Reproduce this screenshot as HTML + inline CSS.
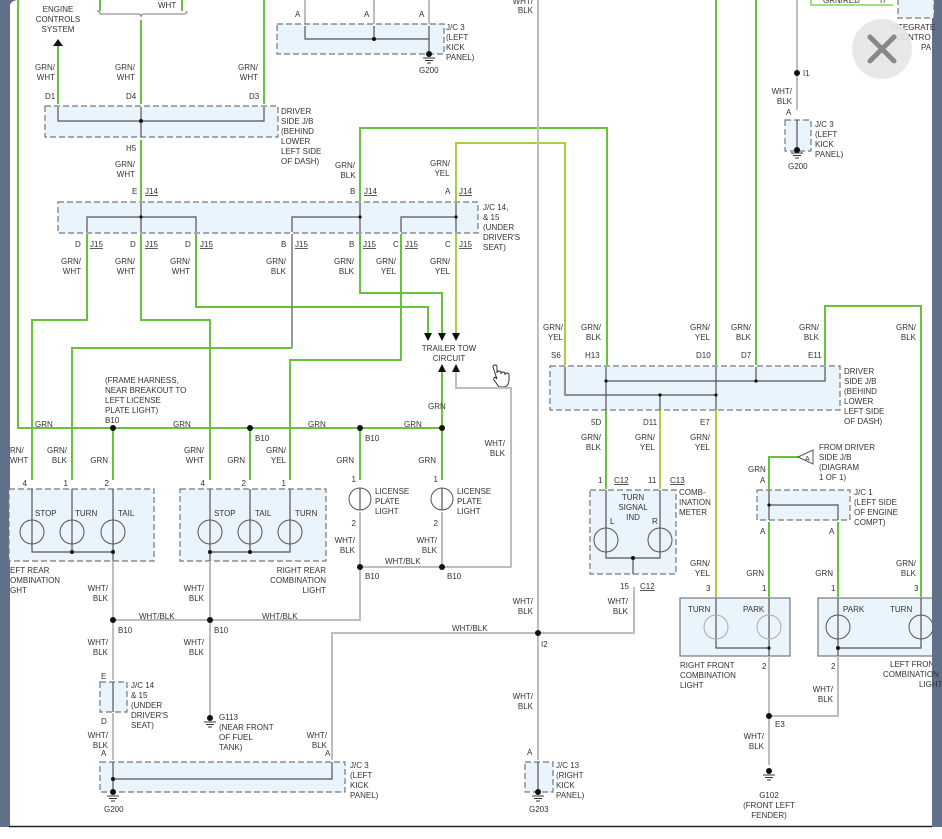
<!DOCTYPE html>
<html><head><meta charset="utf-8"><style>
html,body{margin:0;padding:0;background:#fff;}
svg{display:block;}
text{font-family:"Liberation Sans",Arial,sans-serif;font-size:8px;fill:#333;}
.g{stroke:#66c33a;stroke-width:2;fill:none;}
.y{stroke:#a8d23c;stroke-width:2;fill:none;}
.w{stroke:#bdbdbd;stroke-width:2;fill:none;}
.d{stroke:#555;stroke-width:1.2;fill:none;}
.bx{fill:#eaf4fc;stroke:#777;stroke-width:1.2;stroke-dasharray:6,3;}
.sb{fill:#eaf4fc;stroke:#777;stroke-width:1.2;}
.bl{fill:none;stroke:#555;stroke-width:1;}
.bll{fill:none;stroke:#aaa;stroke-width:1;}
</style></head><body>
<svg width="942" height="839" viewBox="0 0 942 839">
<rect width="942" height="839" fill="#fff"/>
<!-- frame -->
<rect x="0" y="0" width="10" height="827" fill="#5f7088"/>
<rect x="932" y="0" width="10" height="827" fill="#5f7088"/>
<path d="M9 0 v10 q0 -10 10 -10 z" fill="#5f7088"/>
<line x1="9" y1="826.5" x2="932" y2="826.5" stroke="#222" stroke-width="1.5"/>

<!-- ===== top left ===== -->
<text x="58" y="12" text-anchor="middle">ENGINE</text>
<text x="58" y="22" text-anchor="middle">CONTROLS</text>
<text x="58" y="32" text-anchor="middle">SYSTEM</text>
<polygon points="53,46 63,46 58,39" fill="#111"/>
<line class="g" x1="58" y1="46" x2="58" y2="104"/>
<path d="M97 11 q3 0 3 3 h38 q3 0 3 3 q0 -3 3 -3 h40 q3 0 3 -3" fill="none" stroke="#777"/>
<line class="g" x1="100" y1="0" x2="100" y2="11"/>
<line class="g" x1="182" y1="0" x2="182" y2="11"/>
<text x="158" y="8">WHT</text>
<line class="g" x1="141" y1="20" x2="141" y2="104"/>
<line class="g" x1="264" y1="0" x2="264" y2="104"/>
<text x="55" y="70" text-anchor="end">GRN/</text><text x="55" y="80" text-anchor="end">WHT</text>
<text x="135" y="70" text-anchor="end">GRN/</text><text x="135" y="80" text-anchor="end">WHT</text>
<text x="258" y="70" text-anchor="end">GRN/</text><text x="258" y="80" text-anchor="end">WHT</text>
<text x="45" y="99">D1</text><text x="126" y="99">D4</text><text x="249" y="99">D3</text>
<rect class="bx" x="45" y="106" width="233" height="31"/>
<path class="d" d="M58 107 V121 H264 V107 M141 107 V137"/>
<circle cx="141" cy="121" r="2" fill="#111"/>
<text x="281" y="114">DRIVER</text><text x="281" y="124">SIDE J/B</text><text x="281" y="134">(BEHIND</text><text x="281" y="144">LOWER</text><text x="281" y="154">LEFT SIDE</text><text x="281" y="164">OF DASH)</text>
<text x="126" y="151">H5</text>
<line class="g" x1="141" y1="140" x2="141" y2="201"/>
<text x="135" y="167" text-anchor="end">GRN/</text><text x="135" y="177" text-anchor="end">WHT</text>
<text x="132" y="194">E</text><text x="145" y="194" text-decoration="underline">J14</text>

<!-- J/C 14 box -->
<rect class="bx" x="58" y="202" width="420" height="31"/>
<path class="d" d="M141 203 V232 M87 232 V217 H196 V232 M292 232 V217 H360 V203 M360 217 V232 M401 232 V217 H456 V203 M456 217 V232"/>
<circle cx="141" cy="217" r="1.6" fill="#111"/><circle cx="360" cy="217" r="1.6" fill="#111"/><circle cx="456" cy="217" r="1.6" fill="#111"/>
<text x="483" y="210">J/C 14,</text><text x="483" y="220">&amp; 15</text><text x="483" y="230">(UNDER</text><text x="483" y="240">DRIVER'S</text><text x="483" y="250">SEAT)</text>
<text x="345" y="168" text-anchor="middle">GRN/</text><text x="348" y="178" text-anchor="middle">BLK</text>
<text x="350" y="194">B</text><text x="364" y="194" text-decoration="underline">J14</text>
<text x="440" y="166" text-anchor="middle">GRN/</text><text x="442" y="176" text-anchor="middle">YEL</text>
<text x="445" y="194">A</text><text x="459" y="194" text-decoration="underline">J14</text>
<path class="g" d="M360 201 V128 H607 V365"/>
<path class="y" d="M456 201 V143 H565 V365"/>
<!-- J15 labels -->
<text x="75" y="247">D</text><text x="90" y="247" text-decoration="underline">J15</text>
<text x="130" y="247">D</text><text x="145" y="247" text-decoration="underline">J15</text>
<text x="185" y="247">D</text><text x="200" y="247" text-decoration="underline">J15</text>
<text x="281" y="247">B</text><text x="295" y="247" text-decoration="underline">J15</text>
<text x="349" y="247">B</text><text x="363" y="247" text-decoration="underline">J15</text>
<text x="393" y="247">C</text><text x="405" y="247" text-decoration="underline">J15</text>
<text x="445" y="247">C</text><text x="459" y="247" text-decoration="underline">J15</text>
<text x="81" y="264" text-anchor="end">GRN/</text><text x="81" y="274" text-anchor="end">WHT</text>
<text x="135" y="264" text-anchor="end">GRN/</text><text x="135" y="274" text-anchor="end">WHT</text>
<text x="190" y="264" text-anchor="end">GRN/</text><text x="190" y="274" text-anchor="end">WHT</text>
<text x="286" y="264" text-anchor="end">GRN/</text><text x="286" y="274" text-anchor="end">BLK</text>
<text x="354" y="264" text-anchor="end">GRN/</text><text x="354" y="274" text-anchor="end">BLK</text>
<text x="396" y="264" text-anchor="end">GRN/</text><text x="396" y="274" text-anchor="end">YEL</text>
<text x="450" y="264" text-anchor="end">GRN/</text><text x="450" y="274" text-anchor="end">YEL</text>
<!-- J15 wires -->
<path class="g" d="M87 234 V320 H32 V480"/>
<path class="g" d="M141 234 V320 H210 V480"/>
<path class="g" d="M196 234 V307 H428 V333"/>
<path stroke="#777" stroke-width="1.5" fill="none" d="M292 234 V348"/>
<path class="g" d="M292 348 H72 V480"/>
<path class="g" d="M360 234 V293 H442 V333"/>
<path class="g" d="M401 234 V360 H290 V480"/>
<path class="y" d="M456 234 V333"/>
<polygon points="424,333 432,333 428,341" fill="#111"/>
<polygon points="438,333 446,333 442,341" fill="#111"/>
<polygon points="452,333 460,333 456,341" fill="#111"/>
<text x="449" y="351" text-anchor="middle">TRAILER TOW</text>
<text x="449" y="361" text-anchor="middle">CIRCUIT</text>
<polygon points="438,372 446,372 442,364" fill="#111"/>
<polygon points="452,372 460,372 456,364" fill="#111"/>
<path d="M493 367 q0 -2 2 -2 q2 0 2 2 v6 q0 -2 2 -2 q2 0 2 2 v1 q0 -2 2 -2 q2 0 2 2 v1 q0 -2 2 -2 q2 0 2 2 v5 q0 5 -4 7 h-6 l-5 -7 q-1 -2 1 -3 l2 2 z" fill="#fff" stroke="#222" stroke-width="0.9"/>

<!-- GRN bus -->
<path class="g" d="M18 0 V428 H442"/>
<line class="g" x1="442" y1="372" x2="442" y2="480"/>
<line class="g" x1="113" y1="428" x2="113" y2="480"/>
<line class="g" x1="250" y1="428" x2="250" y2="480"/>
<line class="g" x1="360" y1="428" x2="360" y2="480"/>
<circle cx="113" cy="428" r="3" fill="#111"/><circle cx="250" cy="428" r="3" fill="#111"/>
<circle cx="360" cy="428" r="3" fill="#111"/><circle cx="442" cy="428" r="3" fill="#111"/>
<text x="105" y="383">(FRAME HARNESS,</text><text x="105" y="393">NEAR BREAKOUT TO</text><text x="105" y="403">LEFT LICENSE</text><text x="105" y="413">PLATE LIGHT)</text><text x="105" y="423">B10</text>
<text x="35" y="427">GRN</text><text x="173" y="427">GRN</text><text x="308" y="427">GRN</text><text x="404" y="427">GRN</text>
<text x="255" y="441">B10</text><text x="365" y="441">B10</text>
<text x="428" y="409">GRN</text>
<text x="10" y="453">RN/</text><text x="10" y="463">WHT</text>
<text x="67" y="453" text-anchor="end">GRN/</text><text x="67" y="463" text-anchor="end">BLK</text>
<text x="108" y="463" text-anchor="end">GRN</text>
<text x="204" y="453" text-anchor="end">GRN/</text><text x="204" y="463" text-anchor="end">WHT</text>
<text x="245" y="463" text-anchor="end">GRN</text>
<text x="286" y="453" text-anchor="end">GRN/</text><text x="286" y="463" text-anchor="end">YEL</text>
<text x="354" y="463" text-anchor="end">GRN</text><text x="436" y="463" text-anchor="end">GRN</text>

<!-- left rear -->
<text x="27" y="486" text-anchor="end">4</text><text x="68" y="486" text-anchor="end">1</text><text x="109" y="486" text-anchor="end">2</text>
<rect class="bx" x="9" y="489" width="145" height="72"/>
<path class="d" d="M32 489 V552 H113 V561 M72 489 V552 M113 489 V552"/>
<circle class="bl" cx="32" cy="532" r="12"/><circle class="bl" cx="72" cy="532" r="12"/><circle class="bl" cx="113" cy="532" r="12"/>
<circle cx="72" cy="552" r="2" fill="#111"/><circle cx="113" cy="552" r="2" fill="#111"/>
<text x="35" y="516">STOP</text><text x="75" y="516">TURN</text><text x="118" y="516">TAIL</text>
<text x="10" y="573">EFT REAR</text><text x="10" y="583">OMBINATION</text><text x="10" y="593">GHT</text>
<!-- right rear -->
<text x="205" y="486" text-anchor="end">4</text><text x="246" y="486" text-anchor="end">2</text><text x="286" y="486" text-anchor="end">1</text>
<rect class="bx" x="180" y="489" width="146" height="72"/>
<path class="d" d="M210 489 V561 M210 552 H290 V489 M250 489 V552"/>
<circle class="bl" cx="210" cy="532" r="12"/><circle class="bl" cx="250" cy="532" r="12"/><circle class="bl" cx="290" cy="532" r="12"/>
<circle cx="210" cy="552" r="2" fill="#111"/><circle cx="250" cy="552" r="2" fill="#111"/>
<text x="214" y="516">STOP</text><text x="255" y="516">TAIL</text><text x="295" y="516">TURN</text>
<text x="326" y="573" text-anchor="end">RIGHT REAR</text><text x="326" y="583" text-anchor="end">COMBINATION</text><text x="326" y="593" text-anchor="end">LIGHT</text>
<!-- license lights -->
<text x="356" y="482" text-anchor="end">1</text><text x="438" y="482" text-anchor="end">1</text>
<circle class="bl" cx="360" cy="499" r="11"/><circle class="bl" cx="442" cy="499" r="11"/>
<path class="d" d="M360 488 V510 M442 488 V510"/>
<text x="375" y="494">LICENSE</text><text x="375" y="504">PLATE</text><text x="375" y="514">LIGHT</text>
<text x="457" y="494">LICENSE</text><text x="457" y="504">PLATE</text><text x="457" y="514">LIGHT</text>
<text x="356" y="526" text-anchor="end">2</text><text x="438" y="526" text-anchor="end">2</text>
<path class="w" d="M360 512 V620 H113 M442 512 V567 H360 M456 372 V388 H511 V567 H442"/>
<text x="355" y="543" text-anchor="end">WHT/</text><text x="355" y="553" text-anchor="end">BLK</text>
<text x="437" y="543" text-anchor="end">WHT/</text><text x="437" y="553" text-anchor="end">BLK</text>
<text x="505" y="446" text-anchor="end">WHT/</text><text x="505" y="456" text-anchor="end">BLK</text>
<text x="385" y="564">WHT/BLK</text>
<circle cx="360" cy="567" r="3" fill="#111"/><circle cx="442" cy="567" r="3" fill="#111"/>
<text x="365" y="579">B10</text><text x="447" y="579">B10</text>
<!-- lower-left ground paths -->
<path class="w" d="M113 561 V680 M113 713 V760 M210 561 V716"/>
<circle cx="113" cy="620" r="3" fill="#111"/><circle cx="210" cy="620" r="3" fill="#111"/>
<text x="118" y="633">B10</text><text x="214" y="633">B10</text>
<text x="139" y="619">WHT/BLK</text><text x="262" y="619">WHT/BLK</text>
<text x="108" y="591" text-anchor="end">WHT/</text><text x="108" y="601" text-anchor="end">BLK</text>
<text x="204" y="591" text-anchor="end">WHT/</text><text x="204" y="601" text-anchor="end">BLK</text>
<text x="108" y="645" text-anchor="end">WHT/</text><text x="108" y="655" text-anchor="end">BLK</text>
<text x="204" y="645" text-anchor="end">WHT/</text><text x="204" y="655" text-anchor="end">BLK</text>
<text x="101" y="679">E</text>
<rect class="bx" x="100" y="682" width="27" height="30"/>
<path class="d" d="M113 682 V712"/>
<text x="131" y="688">J/C 14</text><text x="131" y="698">&amp; 15</text><text x="131" y="708">(UNDER</text><text x="131" y="718">DRIVER'S</text><text x="131" y="728">SEAT)</text>
<text x="101" y="724">D</text>
<text x="108" y="738" text-anchor="end">WHT/</text><text x="108" y="748" text-anchor="end">BLK</text>
<text x="101" y="756">A</text>
<circle cx="210" cy="718" r="3" fill="#111"/>
<path d="M204 722 h12 M206 724.5 h8 M208 727 h4" stroke="#333"/>
<text x="219" y="720">G113</text><text x="219" y="730">(NEAR FRONT</text><text x="219" y="740">OF FUEL</text><text x="219" y="750">TANK)</text>
<rect class="bx" x="100" y="762" width="245" height="30"/>
<path class="d" d="M113 762 V792 M113 779 H332 V762"/>
<circle cx="113" cy="779" r="2" fill="#111"/><circle cx="113" cy="792" r="3" fill="#111"/>
<path d="M107 796 h12 M109 798.5 h8 M111 801 h4" stroke="#333"/>
<text x="104" y="812">G200</text>
<text x="350" y="768">J/C 3</text><text x="350" y="778">(LEFT</text><text x="350" y="788">KICK</text><text x="350" y="798">PANEL)</text>
<path class="w" d="M332 760 V633 H634 V587"/>
<text x="327" y="738" text-anchor="end">WHT/</text><text x="327" y="748" text-anchor="end">BLK</text>
<text x="325" y="756">A</text>
<text x="452" y="631">WHT/BLK</text>
<!-- center gray vertical -->
<line class="w" x1="538" y1="0" x2="538" y2="760"/>
<text x="533" y="4" text-anchor="end">WHT/</text><text x="533" y="13" text-anchor="end">BLK</text>
<circle cx="538" cy="633" r="3" fill="#111"/><text x="541" y="647">I2</text>
<text x="533" y="604" text-anchor="end">WHT/</text><text x="533" y="614" text-anchor="end">BLK</text>
<text x="533" y="699" text-anchor="end">WHT/</text><text x="533" y="709" text-anchor="end">BLK</text>
<text x="527" y="755">A</text>
<rect class="bx" x="525" y="762" width="28" height="30"/>
<path class="d" d="M538 762 V792"/><circle cx="538" cy="792" r="3" fill="#111"/>
<path d="M532 796 h12 M534 798.5 h8 M536 801 h4" stroke="#333"/>
<text x="529" y="812">G203</text>
<text x="556" y="768">J/C 13</text><text x="556" y="778">(RIGHT</text><text x="556" y="788">KICK</text><text x="556" y="798">PANEL)</text>

<!-- top J/C 3 -->
<path class="w" d="M305 0 V24 M374 0 V24 M429 0 V24"/>
<text x="295" y="17">A</text><text x="364" y="17">A</text><text x="419" y="17">A</text>
<rect class="bx" x="277" y="24" width="167" height="30"/>
<path class="d" d="M305 26 V39 H429 V26 M429 39 V54 M374 26 V39"/>
<circle cx="374" cy="39" r="2" fill="#111"/><circle cx="429" cy="54" r="3" fill="#111"/>
<path d="M423 58 h12 M425 60.5 h8 M427 63 h4" stroke="#333"/>
<text x="419" y="73">G200</text>
<text x="446" y="30">J/C 3</text><text x="446" y="40">(LEFT</text><text x="446" y="50">KICK</text><text x="446" y="60">PANEL)</text>

<!-- right driver J/B -->
<path class="g" d="M716 0 V365 M756 0 V365"/>
<path class="g" d="M825 365 V306 H921 V597"/>
<text x="563" y="330" text-anchor="end">GRN/</text><text x="563" y="340" text-anchor="end">YEL</text>
<text x="601" y="330" text-anchor="end">GRN/</text><text x="601" y="340" text-anchor="end">BLK</text>
<text x="710" y="330" text-anchor="end">GRN/</text><text x="710" y="340" text-anchor="end">YEL</text>
<text x="751" y="330" text-anchor="end">GRN/</text><text x="751" y="340" text-anchor="end">BLK</text>
<text x="819" y="330" text-anchor="end">GRN/</text><text x="819" y="340" text-anchor="end">BLK</text>
<text x="916" y="330" text-anchor="end">GRN/</text><text x="916" y="340" text-anchor="end">BLK</text>
<text x="551" y="358">S6</text><text x="585" y="358">H13</text><text x="696" y="358">D10</text><text x="741" y="358">D7</text><text x="808" y="358">E11</text>
<rect class="bx" x="550" y="366" width="290" height="44"/>
<path class="d" d="M565 367 V395 H716 V367 M716 395 V410 M606 367 V410 M606 381 H825 V367 M756 367 V381 M660 395 V410"/>
<circle cx="606" cy="381" r="1.6" fill="#111"/><circle cx="756" cy="381" r="1.6" fill="#111"/>
<circle cx="660" cy="395" r="1.6" fill="#111"/><circle cx="716" cy="395" r="1.6" fill="#111"/>
<text x="844" y="374">DRIVER</text><text x="844" y="384">SIDE J/B</text><text x="844" y="394">(BEHIND</text><text x="844" y="404">LOWER</text><text x="844" y="414">LEFT SIDE</text><text x="844" y="424">OF DASH)</text>
<text x="591" y="425">5D</text><text x="643" y="425">D11</text><text x="700" y="425">E7</text>
<text x="601" y="440" text-anchor="end">GRN/</text><text x="601" y="450" text-anchor="end">BLK</text>
<text x="655" y="440" text-anchor="end">GRN/</text><text x="655" y="450" text-anchor="end">YEL</text>
<text x="710" y="440" text-anchor="end">GRN/</text><text x="710" y="450" text-anchor="end">YEL</text>
<line class="g" x1="606" y1="410" x2="606" y2="489"/>
<line class="y" x1="660" y1="410" x2="660" y2="489"/>
<line class="y" x1="716" y1="410" x2="716" y2="597"/>
<text x="598" y="483">1</text><text x="614" y="483" text-decoration="underline">C12</text>
<text x="648" y="483">11</text><text x="670" y="483" text-decoration="underline">C13</text>
<rect class="bx" x="590" y="490" width="86" height="84"/>
<path class="d" d="M606 490 V558 H660 V490 M633 558 V574"/>
<circle class="bl" cx="606" cy="540" r="12"/><circle class="bl" cx="660" cy="540" r="12"/>
<circle cx="633" cy="558" r="2" fill="#111"/>
<text x="633" y="500" text-anchor="middle">TURN</text><text x="633" y="510" text-anchor="middle">SIGNAL</text><text x="633" y="520" text-anchor="middle">IND</text>
<text x="610" y="524">L</text><text x="652" y="524">R</text>
<text x="679" y="495">COMB-</text><text x="679" y="505">INATION</text><text x="679" y="515">METER</text>
<text x="620" y="589">15</text><text x="640" y="589" text-decoration="underline">C12</text>
<text x="628" y="604" text-anchor="end">WHT/</text><text x="628" y="614" text-anchor="end">BLK</text>
<!-- J/C 1 -->
<path class="g" d="M800 457 H769 V489"/>
<polygon points="798,457 813,450 813,464" fill="#fff" stroke="#555"/>
<text x="805" y="461" style="font-size:7px">A</text>
<text x="819" y="450">FROM DRIVER</text><text x="819" y="460">SIDE J/B</text><text x="819" y="470">(DIAGRAM</text><text x="819" y="480">1 OF 1)</text>
<text x="748" y="472">GRN</text><text x="760" y="483">A</text>
<rect class="bx" x="757" y="490" width="93" height="30"/>
<path class="d" d="M769 490 V520 M769 505 H838 V520"/>
<circle cx="769" cy="505" r="1.6" fill="#111"/>
<text x="854" y="495">J/C 1</text><text x="854" y="505">(LEFT SIDE</text><text x="854" y="515">OF ENGINE</text><text x="854" y="525">COMPT)</text>
<text x="760" y="534">A</text><text x="829" y="534">A</text>
<line class="g" x1="769" y1="522" x2="769" y2="597"/>
<line class="g" x1="838" y1="522" x2="838" y2="597"/>
<text x="710" y="566" text-anchor="end">GRN/</text><text x="710" y="576" text-anchor="end">YEL</text>
<text x="764" y="576" text-anchor="end">GRN</text><text x="833" y="576" text-anchor="end">GRN</text>
<text x="916" y="566" text-anchor="end">GRN/</text><text x="916" y="576" text-anchor="end">BLK</text>
<text x="706" y="591">3</text><text x="762" y="591">1</text><text x="831" y="591">1</text><text x="914" y="591">3</text>
<!-- front combination lights -->
<rect class="sb" x="680" y="598" width="110" height="58"/>
<path class="d" d="M716 598 V648 H769 V656 M769 598 V648"/>
<circle class="bll" cx="716" cy="627" r="12"/><circle class="bll" cx="769" cy="627" r="12"/>
<circle cx="769" cy="648" r="1.6" fill="#111"/>
<text x="688" y="612">TURN</text><text x="743" y="612">PARK</text>
<text x="680" y="668">RIGHT FRONT</text><text x="680" y="678">COMBINATION</text><text x="680" y="688">LIGHT</text>
<rect class="sb" x="818" y="598" width="125" height="58"/>
<path class="d" d="M838 598 V656 M838 648 H921 V598"/>
<circle class="bl" cx="838" cy="627" r="12"/><circle class="bl" cx="921" cy="627" r="12"/>
<circle cx="838" cy="648" r="2" fill="#111"/>
<text x="843" y="612">PARK</text><text x="890" y="612">TURN</text>
<text x="890" y="667">LEFT FRONT</text><text x="883" y="677">COMBINATION</text><text x="919" y="687">LIGHT</text>
<rect x="932" y="598" width="10" height="70" fill="#5f7088"/>
<text x="762" y="669">2</text><text x="831" y="669">2</text>
<path class="w" d="M769 656 V765 M838 656 V716 H769"/>
<circle cx="769" cy="716" r="3" fill="#111"/><text x="775" y="727">E3</text>
<text x="833" y="692" text-anchor="end">WHT/</text><text x="833" y="702" text-anchor="end">BLK</text>
<text x="764" y="739" text-anchor="end">WHT/</text><text x="764" y="749" text-anchor="end">BLK</text>
<circle cx="769" cy="771" r="3" fill="#111"/>
<path d="M763 775 h12 M765 777.5 h8 M767 780 h4" stroke="#333"/>
<text x="769" y="798" text-anchor="middle">G102</text><text x="769" y="808" text-anchor="middle">(FRONT LEFT</text><text x="769" y="818" text-anchor="middle">FENDER)</text>

<!-- top right -->
<path class="w" d="M797 0 V110"/>
<circle cx="797" cy="73" r="3" fill="#111"/><text x="803" y="76">I1</text>
<text x="792" y="94" text-anchor="end">WHT/</text><text x="792" y="104" text-anchor="end">BLK</text>
<text x="786" y="115">A</text>
<rect class="bx" x="785" y="120" width="26" height="31"/>
<path class="d" d="M797 120 V150"/><circle cx="797" cy="150" r="3" fill="#111"/>
<path d="M791 153 h12 M793 155.5 h8 M795 158 h4" stroke="#333"/>
<text x="788" y="169">G200</text>
<text x="815" y="127">J/C 3</text><text x="815" y="137">(LEFT</text><text x="815" y="147">KICK</text><text x="815" y="157">PANEL)</text>
<path d="M811 0 V5 H893" stroke="#8bd24f" stroke-width="1.5" fill="none"/>
<text x="823" y="3">GRN/RED</text><text x="880" y="3">I7</text>
<rect class="bx" x="898" y="-5" width="36" height="23"/>
<text x="890" y="30">INTEGRATE</text><text x="896" y="40">CONTRO</text><text x="921" y="50">PA</text>
<circle cx="882" cy="49" r="30" fill="#e6e6e6" opacity="0.92"/>
<path d="M870 37 L894 61 M894 37 L870 61" stroke="#888" stroke-width="5" stroke-linecap="round"/>
</svg>
</body></html>
